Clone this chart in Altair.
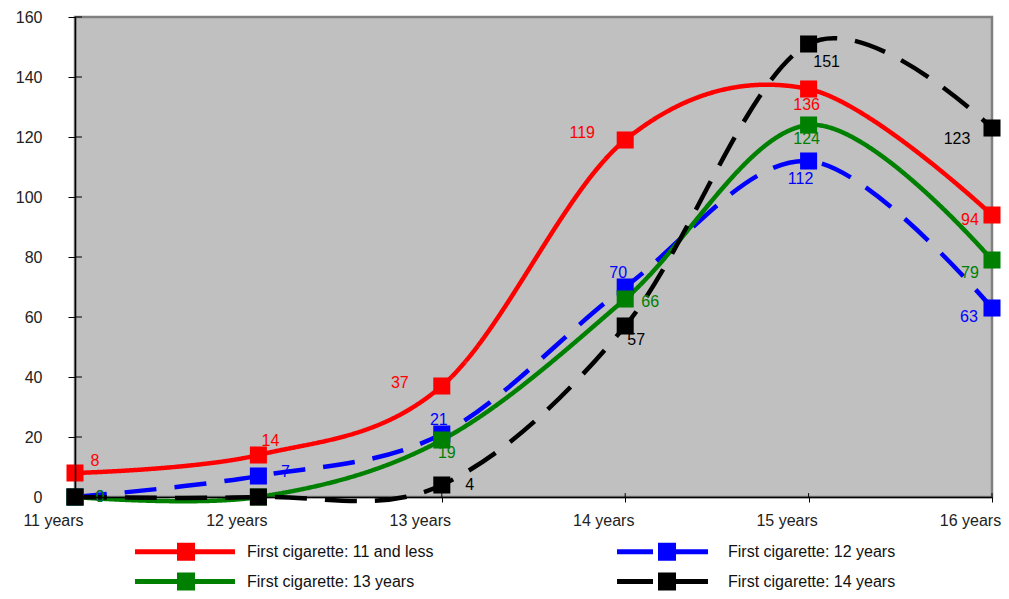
import altair as alt
import pandas as pd

ages = ["11 years", "12 years", "13 years", "14 years", "15 years", "16 years"]
series = [
    "First cigarette: 11 and less",
    "First cigarette: 12 years",
    "First cigarette: 13 years",
    "First cigarette: 14 years",
]
red_vals = [8, 14, 37, 119, 136, 94]
blue_vals = [0, 7, 21, 70, 112, 63]
green_vals = [0, 0, 19, 66, 124, 79]
black_vals = [0, 0, 4, 57, 151, 123]
y_ticks = [0, 20, 40, 60, 80, 100, 120, 140, 160]

colors = ["#FF0000", "#0000FF", "#008000", "#000000"]
dashes = [[1, 0], [32, 18], [1, 0], [32, 18]]

# label offsets (style only): (dx, dy) per point, None = no label
label_offsets = [
    [(20, -12), (12, -14), (-42, -3), (-43, -7), (-2, 16), (-22, 5)],
    [(25, 0), (27, -4), (-3, -14), (-7, -14), (-8, 18), (-23, 9)],
    [(25, 0), None, (5, 13), (25, 3), (-2, 14), (-22, 13)],
    [None, None, (28, 0), (11, 14), (18, 18), (-35, 11)],
]

# legend symbols: line + square, shifted right inside the entry (units of 8.5px)
solid_path = "M6.06,-0.29H17.82V0.29H6.06Z M11,-1.06H13.12V1.06H11Z"
dashed_path = ("M6.18,-0.29H10.41V0.29H6.18Z M11,-1.06H13.12V1.06H11Z "
               "M13.12,-0.29H16.88V0.29H13.12Z")
shapes = [solid_path, dashed_path, solid_path, dashed_path]

all_vals = [red_vals, blue_vals, green_vals, black_vals]
rows = []
for s, vals in zip(series, all_vals):
    for a, v in zip(ages, vals):
        rows.append({"series": s, "age": a, "value": v})
df = pd.DataFrame(rows)

FONT = "Liberation Sans"
FS = 16

x_enc = alt.X(
    "age:O",
    sort=ages,
    scale=alt.Scale(type="point", padding=0, domain=ages),
    axis=alt.Axis(
        title=None, labelAngle=0, labelFontSize=FS, labelFont=FONT,
        labelColor="#222222", tickSize=5, tickColor="#000000",
        domainColor="#000000", domainWidth=1.5, labelPadding=18,
        labelOffset=-22, labelAlign="center", zindex=1,
    ),
)
y_enc = alt.Y(
    "value:Q",
    scale=alt.Scale(domain=[0, 160], nice=False),
    axis=alt.Axis(
        title=None, values=y_ticks, labelFontSize=FS, labelFont=FONT,
        labelColor="#222222", tickSize=7, tickColor="#000000",
        domainColor="#000000", domainWidth=1.5, labelPadding=26,
        grid=False, zindex=1,
    ),
)
color_scale = alt.Scale(domain=series, range=colors)

base = alt.Chart(df)

lines = base.mark_line(interpolate="cardinal", strokeWidth=4.5).encode(
    x=x_enc,
    y=y_enc,
    color=alt.Color("series:N", scale=color_scale, legend=None),
    strokeDash=alt.StrokeDash(
        "series:N", scale=alt.Scale(domain=series, range=dashes), legend=None
    ),
    detail="series:N",
)

legend_def = alt.Legend(
    title=None, orient="bottom", direction="horizontal", columns=2,
    columnPadding=122, rowPadding=11, symbolSize=289, symbolStrokeWidth=0,
    symbolOpacity=1, labelOffset=155, labelFontSize=FS, labelFont=FONT,
    labelColor="#111111", labelLimit=400, offset=15,
)
legend_layer = base.mark_point(filled=True, opacity=1, size=0).encode(
    x=alt.X("age:O", sort=ages),
    y=alt.Y("value:Q"),
    color=alt.Color("series:N", scale=color_scale, legend=legend_def),
    shape=alt.Shape(
        "series:N", scale=alt.Scale(domain=series, range=shapes), legend=legend_def
    ),
)

squares = base.mark_square(size=290, opacity=1, filled=True).encode(
    x=alt.X("age:O", sort=ages),
    y=alt.Y("value:Q"),
    color=alt.Color("series:N", scale=color_scale, legend=None),
)

text_layers = []
for i, s in enumerate(series):
    for j, a in enumerate(ages):
        off = label_offsets[i][j]
        if off is None:
            continue
        t = base.transform_filter(
            (alt.datum.series == s) & (alt.datum.age == a)
        ).mark_text(
            dx=off[0], dy=off[1], fontSize=FS, font=FONT, color=colors[i],
            align="center", baseline="middle",
        ).encode(
            x=alt.X("age:O", sort=ages),
            y=alt.Y("value:Q"),
            text=alt.Text("value:Q"),
        )
        text_layers.append(t)

ytick_df = pd.DataFrame({"v": y_ticks})
y_inner = alt.Chart(ytick_df).mark_rule(color="#000000", strokeWidth=1).encode(
    y=alt.Y("v:Q"), x=alt.value(0), x2=alt.value(7)
)
xtick_df = pd.DataFrame({"age": ages})
x_inner = alt.Chart(xtick_df).mark_rule(color="#000000", strokeWidth=1).encode(
    x=alt.X("age:O", sort=ages), y=alt.datum(0), y2=alt.datum(1.3)
)

chart = alt.layer(
    legend_layer, y_inner, x_inner, lines, squares, *text_layers
).properties(
    width=993, height=583,
    autosize=alt.AutoSizeParams(type="fit", contains="padding"),
    padding={"left": 7, "top": 1, "right": 0, "bottom": 0},
).configure_view(
    fill="#C0C0C0", stroke="#808080", strokeWidth=2.5
)

chart.save("out.html", embed_options={"renderer": "svg", "actions": False})
